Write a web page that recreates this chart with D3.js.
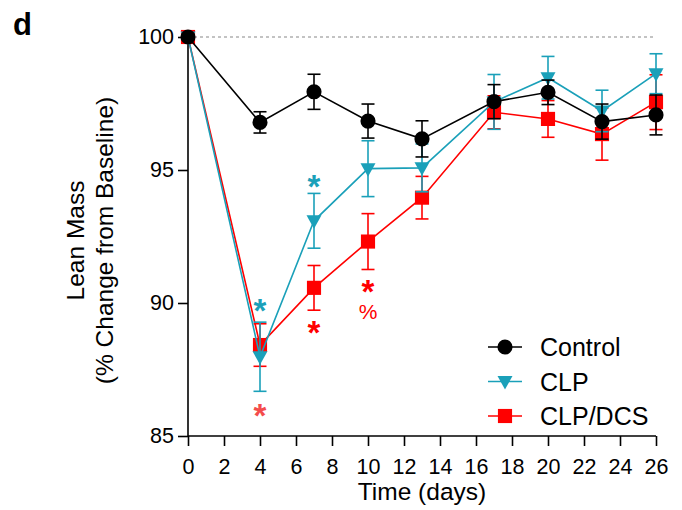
<!DOCTYPE html>
<html>
<head>
<meta charset="utf-8">
<script src="https://cdn.jsdelivr.net/npm/d3@7"></script>
<style>
  body { margin: 0; background: #fff; }
  svg text { font-family: "Liberation Sans", Arial, sans-serif; }
</style>
</head>
<body>
<div id="chart"></div>
<script>
// data
const days = [0, 4, 7, 10, 13, 17, 20, 23, 26];
const controlMean = [100, 96.79, 97.94, 96.84, 96.17, 97.57, 97.92, 96.82, 97.07];
const controlSem  = [0, 0.4, 0.66, 0.64, 0.68, 0.64, 0.46, 0.66, 0.75];
const clpMean = [100, 87.98, 93.09, 95.05, 95.08, 97.56, 98.47, 97.22, 98.62];
const clpSem  = [0, 1.3, 1.03, 1.05, 0.9, 1.03, 0.8, 0.78, 0.75];
const dcsMean = [100, 88.42, 90.57, 92.31, 93.96, 97.17, 96.92, 96.35, 97.55];
const dcsSem  = [0, 0.8, 0.84, 1.05, 0.8, 0.62, 0.69, 0.98, 1.03];
const seriesNames = ["Control", "CLP", "CLP/DCS"];
const xTicks = d3.range(0, 27, 2);
const yTicks = [85, 90, 95, 100];
// significance marks: [day, value-position, text, colour key]
const marks = [
  [4, 90.0, "*", "clp"], [4, 86.07, "*", "dcsLight"],
  [7, 94.65, "*", "clp"], [7, 89.16, "*", "dcs"],
  [10, 90.72, "*", "dcs"]
];
const pctMarks = [[10, 89.7, "%", "dcs"]];

const colours = { control: "#000000", clp: "#1aa0b9", dcs: "#ff0000", dcsLight: "#f44c4c" };

const W = 682, H = 510;
const margin = { top: 37, right: 26, bottom: 74, left: 188 };
const width = W - margin.left - margin.right;
const height = H - margin.top - margin.bottom;

const svg = d3.select("#chart").append("svg")
  .attr("width", W).attr("height", H);

const g = svg.append("g")
  .attr("transform", "translate(" + margin.left + "," + margin.top + ")");

const x = d3.scaleLinear().domain([0, 26]).range([0, width]);
const y = d3.scaleLinear().domain([85, 100]).range([height, 0]);

// panel letter
svg.append("text").attr("x", 13).attr("y", 35)
  .attr("font-size", "31px").attr("font-weight", "bold").text("d");

// baseline dotted line
g.append("line")
  .attr("x1", 0).attr("x2", width)
  .attr("y1", y(100)).attr("y2", y(100))
  .attr("stroke", "#888").attr("stroke-width", 1.2)
  .attr("stroke-dasharray", "3,3");

// axes
const xAxis = g.append("g")
  .attr("transform", "translate(0," + height + ")")
  .call(d3.axisBottom(x).tickValues(xTicks).tickSize(10).tickPadding(13));
const yAxis = g.append("g")
  .call(d3.axisLeft(y).tickValues(yTicks).tickSize(10).tickPadding(4));

[xAxis, yAxis].forEach(a => {
  a.select(".domain").attr("stroke", "#000").attr("stroke-width", 1.6);
  a.selectAll(".tick line").attr("stroke", "#000").attr("stroke-width", 1.6);
  a.selectAll(".tick text").attr("font-size", "21.5px").attr("fill", "#000")
    .attr("font-family", "Liberation Sans, Arial, sans-serif");
});
// axis domain without end ticks
xAxis.select(".domain").attr("d", "M0,0H" + width);
yAxis.select(".domain").attr("d", "M0," + height + "V0");

// axis titles
g.append("text")
  .attr("x", width / 2).attr("y", height + 64)
  .attr("text-anchor", "middle").attr("font-size", "24.5px")
  .text("Time (days)");

const yTitle = g.append("text")
  .attr("transform", "translate(-104," + (height / 2 + 4) + ") rotate(-90)")
  .attr("text-anchor", "middle").attr("font-size", "24.5px");
yTitle.append("tspan").attr("x", 0).attr("dy", 0).text("Lean Mass");
yTitle.append("tspan").attr("x", 0).attr("dy", "1.2em").text("(% Change from Baseline)");

// series
const series = [
  { key: "dcs", mean: dcsMean, sem: dcsSem, shape: d3.symbolSquare, size: 200 },
  { key: "clp", mean: clpMean, sem: clpSem, shape: "tri", size: 0 },
  { key: "control", mean: controlMean, sem: controlSem, shape: d3.symbolCircle, size: 180 }
];

const line = d3.line().x(d => x(d.day)).y(d => y(d.mean));
const capW = 6.5;

series.forEach(s => {
  const pts = days.map((d, i) => ({ day: d, mean: s.mean[i], sem: s.sem[i] }));
  const col = colours[s.key];
  const sg = g.append("g");

  sg.append("path").datum(pts)
    .attr("d", line).attr("fill", "none")
    .attr("stroke", col).attr("stroke-width", 1.6);

  const eb = sg.selectAll(".eb").data(pts.filter(p => p.sem > 0)).enter().append("g");
  eb.append("line")
    .attr("x1", d => x(d.day)).attr("x2", d => x(d.day))
    .attr("y1", d => y(d.mean - d.sem)).attr("y2", d => y(d.mean + d.sem))
    .attr("stroke", col).attr("stroke-width", 1.6);
  eb.append("line")
    .attr("x1", d => x(d.day) - capW).attr("x2", d => x(d.day) + capW)
    .attr("y1", d => y(d.mean + d.sem)).attr("y2", d => y(d.mean + d.sem))
    .attr("stroke", col).attr("stroke-width", 1.6);
  eb.append("line")
    .attr("x1", d => x(d.day) - capW).attr("x2", d => x(d.day) + capW)
    .attr("y1", d => y(d.mean - d.sem)).attr("y2", d => y(d.mean - d.sem))
    .attr("stroke", col).attr("stroke-width", 1.6);

  const m = sg.selectAll(".mk").data(pts).enter();
  if (s.shape === "tri") {
    m.append("path")
      .attr("d", "M-7.5,-5.5L7.5,-5.5L0,8Z")
      .attr("transform", d => "translate(" + x(d.day) + "," + y(d.mean) + ")")
      .attr("fill", col);
  } else {
    m.append("path")
      .attr("d", d3.symbol().type(s.shape).size(s.size))
      .attr("transform", d => "translate(" + x(d.day) + "," + y(d.mean) + ")")
      .attr("fill", col);
  }
});

// significance asterisks
g.selectAll(".star").data(marks).enter().append("text")
  .attr("x", d => x(d[0])).attr("y", d => y(d[1]) + 19)
  .attr("text-anchor", "middle").attr("font-size", "33px").attr("font-weight", "bold")
  .attr("fill", d => colours[d[3]]).text(d => d[2]);
g.selectAll(".pct").data(pctMarks).enter().append("text")
  .attr("x", d => x(d[0])).attr("y", d => y(d[1]) + 8)
  .attr("text-anchor", "middle").attr("font-size", "21px")
  .attr("fill", d => colours[d[3]]).text(d => d[2]);

// legend
const legend = g.append("g").attr("transform", "translate(300,310)");
const legendItems = [
  { name: seriesNames[0], key: "control", shape: d3.symbolCircle, size: 180 },
  { name: seriesNames[1], key: "clp", shape: "tri" },
  { name: seriesNames[2], key: "dcs", shape: d3.symbolSquare, size: 200 }
];
legendItems.forEach((it, i) => {
  const row = legend.append("g").attr("transform", "translate(0," + (i * 34.5) + ")");
  row.append("line").attr("x1", 0).attr("x2", 34)
    .attr("stroke", colours[it.key]).attr("stroke-width", 1.6);
  if (it.shape === "tri") {
    row.append("path").attr("d", "M-7.5,-5.5L7.5,-5.5L0,8Z")
      .attr("transform", "translate(17,0)").attr("fill", colours[it.key]);
  } else {
    row.append("path").attr("d", d3.symbol().type(it.shape).size(it.size))
      .attr("transform", "translate(17,0)").attr("fill", colours[it.key]);
  }
  row.append("text").attr("x", 52).attr("y", 9)
    .attr("font-size", "25px").text(it.name);
});
</script>
</body>
</html>
